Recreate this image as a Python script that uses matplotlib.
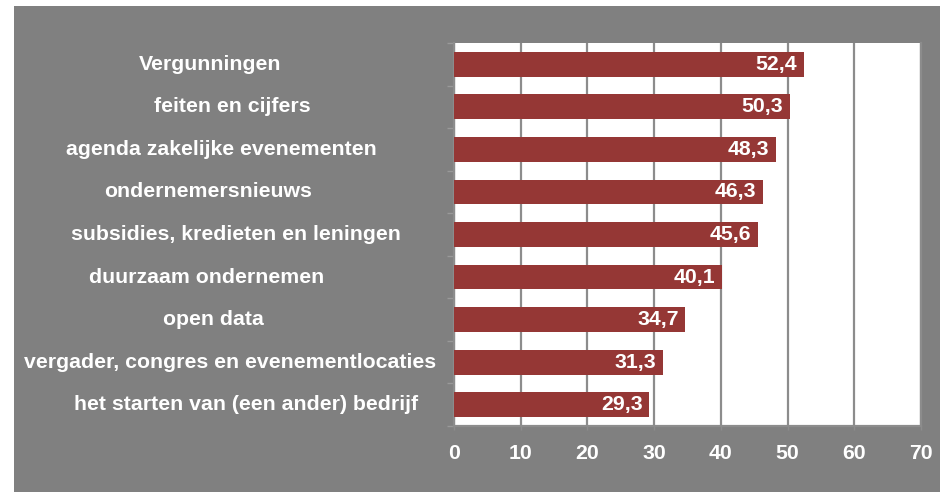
import numpy as np
import matplotlib.pyplot as plt
from matplotlib.patches import Rectangle
from matplotlib.transforms import blended_transform_factory

categories = ['Vergunningen', 'feiten en cijfers', 'agenda zakelijke evenementen',
              'ondernemersnieuws', 'subsidies, kredieten en leningen',
              'duurzaam ondernemen', 'open data',
              'vergader, congres en evenementlocaties',
              'het starten van (een ander) bedrijf']
values = [52.4, 50.3, 48.3, 46.3, 45.6, 40.1, 34.7, 31.3, 29.3]
value_labels = ['52,4', '50,3', '48,3', '46,3', '45,6', '40,1', '34,7', '31,3', '29,3']
xticks = [0, 10, 20, 30, 40, 50, 60, 70]

# left edge of each category label, in pixels (labels are not aligned in the original)
label_left_px = [139, 154, 66, 104, 71, 89, 163, 24, 74]

bg = '#808080'
bar_col = '#953735'
grid_col = '#8c8c8c'
fs = 15.3

plt.rcParams['font.family'] = ['Liberation Sans', 'DejaVu Sans']

fig = plt.figure(figsize=(9.4, 4.92), dpi=100)
fig.patch.set_facecolor('white')
fig.patches.append(Rectangle((14 / 940, 0), 1, 1 - 6 / 492, transform=fig.transFigure,
                             facecolor=bg, edgecolor='none', zorder=-10))

ax = fig.add_axes([454 / 940, 1 - 426 / 492, (921 - 454) / 940, (426 - 43) / 492])
ax.set_facecolor('white')

y = np.arange(len(categories))
ax.barh(y, values, height=0.58, color=bar_col, zorder=3)

for yi, v, lab in zip(y, values, value_labels):
    ax.text(v - 1.0, yi, lab, ha='right', va='center', color='white',
            fontsize=fs, fontweight='bold', zorder=4)

trans = blended_transform_factory(fig.transFigure, ax.transData)
for yi, cat, lx in zip(y, categories, label_left_px):
    ax.text(lx / 940, yi, cat, ha='left', va='center', color='white',
            fontsize=fs, fontweight='bold', transform=trans, clip_on=False)

ax.set_xlim(0, 70)
ax.set_ylim(len(categories) - 0.5, -0.5)
ax.set_xticks(xticks)
ax.set_xticklabels([str(t) for t in xticks], color='white', fontsize=fs, fontweight='bold')
ax.set_yticks(np.arange(len(categories) + 1) - 0.5)
ax.set_yticklabels([])
ax.tick_params(axis='x', length=3, width=1, color=grid_col, pad=10)
ax.tick_params(axis='y', length=5, width=1, color='#999999')
ax.grid(axis='x', color=grid_col, linewidth=1.6, zorder=1)
ax.set_axisbelow(True)

ax.spines['top'].set_visible(False)
for s in ['left', 'right', 'bottom']:
    ax.spines[s].set_color(grid_col)
    ax.spines[s].set_linewidth(1.6)

plt.savefig('out.png', dpi=100, facecolor=fig.get_facecolor())
